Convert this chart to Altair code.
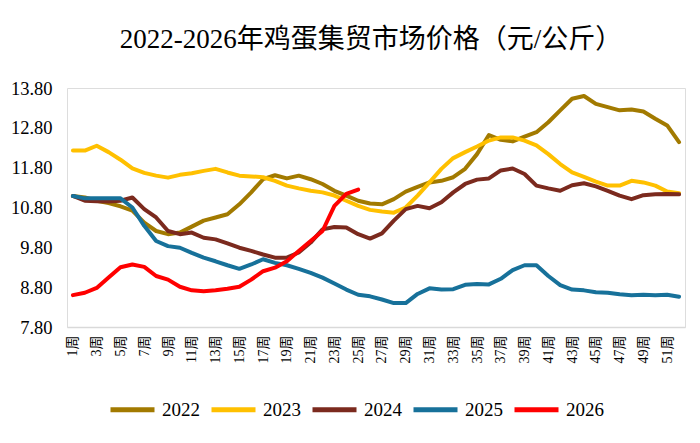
import altair as alt
import pandas as pd

weeks = list(range(1, 53))
years = ["2022", "2023", "2024", "2025", "2026"]
colors = ["#A27A00", "#FFC000", "#7B2A1E", "#17719A", "#FF0000"]

y2022 = [11.09, 11.05, 10.97, 10.91, 10.83, 10.72, 10.42, 10.21, 10.13, 10.17,
         10.32, 10.47, 10.55, 10.63, 10.88, 11.18, 11.51, 11.61, 11.53, 11.60,
         11.51, 11.39, 11.22, 11.10, 10.97, 10.90, 10.88, 11.01, 11.20, 11.32,
         11.43, 11.47, 11.56, 11.77, 12.14, 12.62, 12.50, 12.46, 12.58, 12.69,
         12.94, 13.24, 13.53, 13.60, 13.40, 13.32, 13.24, 13.26, 13.21, 13.03,
         12.86, 12.44]
y2023 = [12.23, 12.23, 12.35, 12.19, 12.00, 11.78, 11.67, 11.60, 11.55, 11.62,
         11.66, 11.72, 11.77, 11.68, 11.60, 11.58, 11.56, 11.47, 11.35, 11.28,
         11.22, 11.18, 11.10, 10.97, 10.84, 10.74, 10.70, 10.67, 10.80, 11.10,
         11.43, 11.77, 12.04, 12.19, 12.33, 12.48, 12.56, 12.56, 12.48, 12.36,
         12.14, 11.89, 11.68, 11.57, 11.45, 11.35, 11.35, 11.47, 11.43, 11.35,
         11.20, 11.16]
y2024 = [11.09, 10.97, 10.96, 10.95, 10.97, 11.05, 10.76, 10.55, 10.21, 10.13,
         10.17, 10.04, 10.00, 9.90, 9.79, 9.71, 9.62, 9.54, 9.54, 9.67,
         9.92, 10.25, 10.31, 10.30, 10.13, 10.02, 10.15, 10.47, 10.76, 10.84,
         10.78, 10.93, 11.18, 11.39, 11.50, 11.53, 11.73, 11.78, 11.64, 11.35,
         11.28, 11.22, 11.36, 11.41, 11.33, 11.22, 11.10, 11.01, 11.11, 11.13,
         11.14, 11.13]
y2025 = [11.09, 11.03, 11.03, 11.03, 11.03, 10.80, 10.34, 9.96, 9.83, 9.79,
         9.66, 9.54, 9.45, 9.35, 9.26, 9.37, 9.50, 9.41, 9.35, 9.26,
         9.16, 9.04, 8.89, 8.74, 8.61, 8.57, 8.49, 8.40, 8.40, 8.63,
         8.77, 8.74, 8.75, 8.86, 8.88, 8.87, 9.01, 9.23, 9.35, 9.35,
         9.08, 8.85, 8.74, 8.72, 8.67, 8.66, 8.62, 8.60, 8.61, 8.60,
         8.61, 8.56]
y2026 = [8.60, 8.66, 8.78, 9.04, 9.30, 9.37, 9.31, 9.08, 8.99, 8.81,
         8.72, 8.70, 8.72, 8.76, 8.81, 8.99, 9.20, 9.29, 9.45, 9.71,
         9.96, 10.21, 10.84, 11.14, 11.25]

series = [y2022, y2023, y2024, y2025, y2026]
tick_weeks = list(range(1, 52, 2))
y_ticks = [7.8, 8.8, 9.8, 10.8, 11.8, 12.8, 13.8]

rows = []
for yr, vals in zip(years, series):
    for w, v in zip(weeks, vals):
        rows.append({"week": w, "year": yr, "price": v})
df = pd.DataFrame(rows)

FONT = "Times New Roman, Liberation Serif, Noto Sans CJK SC, serif"

chart = alt.Chart(df).mark_line(strokeWidth=4, strokeJoin="round", strokeCap="round").encode(
    x=alt.X("week:Q",
            scale=alt.Scale(domain=[0.5, 52.5], nice=False, zero=False),
            axis=alt.Axis(values=tick_weeks, labelExpr="datum.value + '周'",
                          labelAngle=-90, ticks=False, grid=False,
                          domainColor="#D9D9D9", domainWidth=1.5, title=None,
                          labelFont=FONT, labelFontSize=14, labelColor="#000000",
                          labelPadding=8, labelOverlap=False)),
    y=alt.Y("price:Q",
            scale=alt.Scale(domain=[7.8, 13.8], nice=False, zero=False),
            axis=alt.Axis(values=y_ticks, format=".2f", grid=False, domain=False,
                          ticks=False, labelPadding=15, title=None,
                          labelFont=FONT, labelFontSize=18.5, labelColor="#000000")),
    color=alt.Color("year:N",
                    scale=alt.Scale(domain=years, range=colors),
                    legend=alt.Legend(orient="none", legendX=41, legendY=297,
                                      title=None, direction="horizontal",
                                      symbolType="stroke", symbolSize=1936,
                                      symbolStrokeWidth=5, labelFont=FONT,
                                      labelFontSize=19, labelColor="#000000",
                                      columnPadding=1, labelOffset=5)),
).properties(
    width=618,
    height=239,
    padding={"left": 2, "top": 18, "right": 5, "bottom": 5},
    title=alt.TitleParams("2022-2026年鸡蛋集贸市场价格（元/公斤）", font=FONT,
                          fontSize=27, fontWeight="normal", color="#000000",
                          anchor="middle", offset=25, dx=-5),
).configure_view(stroke=None).configure(background="#FFFFFF")

chart.save("out.html", embed_options={"renderer": "svg", "actions": False})
